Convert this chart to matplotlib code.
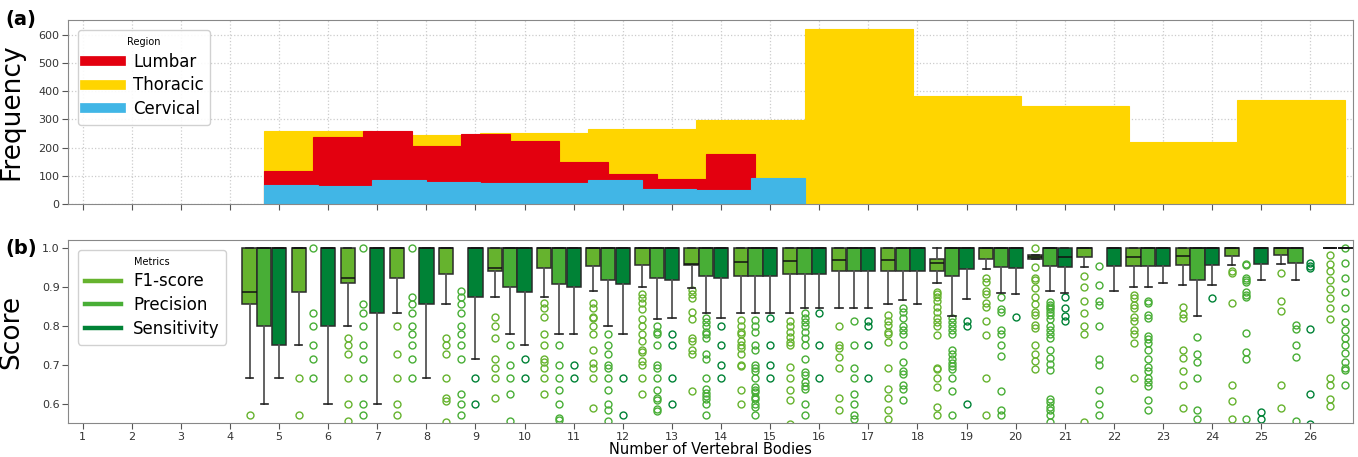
import numpy as np
import matplotlib
matplotlib.use("Agg")
import matplotlib.pyplot as plt
from matplotlib.lines import Line2D

# --- (a) histogram data: counts per bin, range of vertebral counts per region
region_names = ["Lumbar", "Thoracic", "Cervical"]
thoracic_counts = [259, 245, 250, 265, 298, 620, 383, 346, 221, 369]
thoracic_range = (5, 27)
lumbar_counts = [115, 238, 258, 206, 249, 225, 150, 107, 89, 177]
lumbar_range = (5, 15)
cervical_counts = [68, 64, 83, 76, 74, 74, 86, 51, 49, 92]
cervical_range = (5, 16)

# --- (b) box statistics per number of vertebral bodies (None = no box)
groups = list(range(5, 28))
metric_names = ["F1-score", "Precision", "Sensitivity"]

f1_q1 = [.857, .888, .91, .923, .933, .941, .948, .953, .957, .957, .928, .933,
         .94, .941, .941, .972, .972, .976, .955, .957, .98, .981, 1.0]
f1_med = [.888, 1, .923, 1, 1, .948, 1, 1, 1, .959, .964, .967,
          .969, .97, .962, 1, .977, 1, .978, .98, 1, 1, 1.0]
f1_q3 = [1, 1, 1, 1, 1, 1, 1, 1, 1, 1, 1, 1, 1, 1, .972, 1, .981, 1, 1, 1, 1, 1, 1]
f1_lo = [.666, .75, .80, .833, .857, .875, .875, .889, .90, .897, .832, .832,
         .847, .857, .91, .947, .972, .951, .901, .905, .957, .959, 1.0]
f1_hi = [1, 1, 1, 1, 1, 1, 1, 1, 1, 1, 1, 1, 1, 1, 1, 1, .981, 1, 1, 1, 1, 1, 1]
f1_fliers = [
    [.57],
    [.667, .57],
    [.769, .75, .727, .667, .60, .555],
    [.80, .727, .667, .60, .57],
    [.769, .75, .727, .667, .615, .608, .552],
    [.824, .80, .769, .714, .692, .667, .615],
    [.858, .845, .824, .778, .75, .714, .707, .692, .667, .624],
    [.858, .845, .824, .82, .80, .778, .738, .705, .692, .667, .588],
    [.882, .871, .858, .843, .819, .80, .778, .761, .738, .733, .709, .70, .667, .624],
    [.892, .881, .871, .835, .819, .768, .761, .738, .729, .632],
    [.815, .80, .785, .778, .761, .75, .742, .729, .70, .697, .636, .60],
    [.813, .80, .785, .772, .759, .75, .695, .667, .636, .609, .548],
    [.80, .75, .744, .72, .692, .615, .583],
    [.828, .812, .802, .785, .778, .759, .692, .639, .615, .583, .561],
    [.886, .881, .875, .864, .849, .837, .821, .811, .80, .776, .692, .688, .667, .643, .591, .57],
    [.923, .914, .89, .881, .858, .849, .812, .776, .667, .57],
    [1.0, .951, .923, .918, .897, .875, .856, .837, .828, .802, .794, .751, .729, .709, .688],
    [.927, .901, .865, .832, .80, .778, .553],
    [.88, .873, .854, .845, .824, .812, .789, .778, .757, .667],
    [.849, .83, .821, .738, .718, .683, .647, .588],
    [.94, .935, .858, .647, .606, .561],
    [.937, .864, .838, .649, .588],
    [.981, .96, .94, .917, .895, .871, .845, .819, .666, .649, .611, .594],
]

pr_q1 = [.80, None, None, None, None, .90, .909, .917, .923, .928, .928, .933,
         .94, .941, .928, .951, .953, None, .955, .917, None, .961, 1.0]
pr_lo = [.60, None, None, None, None, .778, .778, .80, .819, .832, .832, .847,
         .847, .867, .826, .884, .89, None, .901, .826, None, .918, 1.0]
pr_fliers = [
    [],
    [1.0, .834, .80, .75, .714, .667],
    [1.0, .857, .833, .80, .75, .714, .667, .60, .57],
    [1.0, .875, .857, .833, .80, .778, .75, .714, .667],
    [.889, .875, .857, .833, .80, .778, .75, .714, .624, .60, .57],
    [.75, .70, .667, .624, .555],
    [.75, .70, .667, .636, .60, .563, .557],
    [.778, .75, .727, .70, .692, .667, .636, .60, .583, .555],
    [.80, .785, .778, .75, .70, .692, .667, .636, .615, .609, .587, .581],
    [.82, .811, .80, .785, .778, .769, .729, .714, .667, .637, .628, .621, .613, .60, .57],
    [.815, .80, .785, .75, .738, .70, .692, .683, .667, .643, .636, .63, .617, .611, .60, .591, .57],
    [.832, .821, .809, .80, .785, .769, .75, .714, .682, .673, .656, .646, .639, .60, .57],
    [.812, .75, .692, .667, .624, .60, .57, .561],
    [.845, .837, .821, .80, .789, .778, .75, .706, .683, .677, .647, .637, .61],
    [.82, .809, .80, .789, .778, .738, .729, .714, .705, .697, .69, .667, .632, .57],
    [.875, .843, .835, .789, .778, .75, .723, .632, .583, .57],
    [.862, .855, .849, .843, .837, .828, .819, .80, .789, .778, .768, .738, .718, .703, .686,
     .613, .604, .591, .583, .57, .553],
    [.954, .905, .864, .855, .80, .714, .70, .636, .60, .57],
    [.864, .858, .828, .821, .775, .766, .757, .738, .714, .695, .683, .667, .656, .645, .609, .583],
    [.772, .727, .708, .667, .583, .56],
    [.959, .957, .924, .918, .914, .886, .88, .874, .783, .733, .714, .561],
    [.802, .792, .751, .72, .555],
    [1.0, .961, .923, .886, .847, .809, .789, .769, .75, .731, .707, .692, .686, .649],
]

se_q1 = [.75, .80, .833, .857, .875, .888, .90, .909, .917, .923, .928, .933,
         .94, .941, .945, .948, .951, .953, .955, .957, .959, None, 1.0]
se_med = [1, 1, 1, 1, 1, 1, 1, 1, 1, 1, 1, 1, 1, 1, 1, 1, .976, 1, 1, 1, 1, None, 1]
se_lo = [.667, .60, .60, .667, .714, .75, .778, .778, .82, .82, .832, .847,
         .847, .857, .868, .883, .884, .89, .91, .905, .918, None, 1.0]
se_fliers = [
    [], [], [], [], [.667, .60], [.714, .667], [.70, .667], [.667, .57],
    [.778, .75, .667, .60], [.80, .75, .70, .667], [.82, .75, .70, .667],
    [.832, .75, .667], [.812, .80, .75, .667], [], [.812, .80, .60], [.824],
    [.875, .847, .826, .812], [], [], [.871], [.578, .561],
    [.961, .955, .948, .792, .624, .548], [],
]

region_colors = {"Lumbar": "#e3000f", "Thoracic": "#ffd500", "Cervical": "#41b6e6"}
metric_colors = ["#66b32e", "#48ae36", "#008236"]

fig = plt.figure(figsize=(13.58, 4.57), dpi=100)
ax1 = fig.add_axes([0.050, 0.554, 0.946, 0.402])
ax2 = fig.add_axes([0.050, 0.074, 0.946, 0.401])

# ---- (a) overlapping step histograms (shifted by -0.3 like the boxes)
shift = -0.3
for name, counts, rng in [("Thoracic", thoracic_counts, thoracic_range),
                          ("Lumbar", lumbar_counts, lumbar_range),
                          ("Cervical", cervical_counts, cervical_range)]:
    edges = np.linspace(rng[0] + shift, rng[1] + shift, len(counts) + 1)
    ax1.stairs(counts, edges, fill=True, color=region_colors[name],
               edgecolor=region_colors[name], linewidth=0.8)

ax1.set_xlim(0.7, 26.86)
ax1.set_ylim(0, 653)
ax1.set_xticks(range(1, 27))
ax1.set_xticklabels([])
ax1.set_yticks(range(0, 700, 100))
ax1.grid(True, linestyle=":", color="#cccccc", linewidth=0.9)
ax1.set_axisbelow(True)
ax1.set_ylabel("Frequency", fontsize=19)
ax1.yaxis.set_label_coords(-0.034, 0.5)

leg_kw = dict(loc="upper left", fontsize=12, title_fontsize=7, handlelength=2.2,
              handletextpad=0.7, borderaxespad=0.6, labelspacing=0.35, framealpha=0.9)
h1 = [Line2D([0], [0], color=region_colors[n], lw=7) for n in region_names]
ax1.legend(h1, region_names, title="Region", **leg_kw)
fig.text(0.004, 0.945, "(a)", fontsize=14, fontweight="bold")

# ---- (b) box plots
offsets = [-0.6, -0.3, 0.0]
all_q1 = [f1_q1, pr_q1, se_q1]
all_med = [f1_med, [1.0 if q is not None else None for q in pr_q1], se_med]
all_q3 = [f1_q3, [1.0] * len(groups), [1.0] * len(groups)]
all_lo = [f1_lo, pr_lo, se_lo]
all_hi = [f1_hi, [1.0] * len(groups), [1.0] * len(groups)]
all_fl = [f1_fliers, pr_fliers, se_fliers]

for m in range(3):
    stats, pos = [], []
    for i, n in enumerate(groups):
        x = n + offsets[m]
        if all_q1[m][i] is not None:
            stats.append(dict(q1=all_q1[m][i], med=all_med[m][i], q3=all_q3[m][i],
                              whislo=all_lo[m][i], whishi=all_hi[m][i], fliers=[]))
            pos.append(x)
        fl = all_fl[m][i]
        if fl:
            ax2.plot([x] * len(fl), fl, linestyle="none", marker="o", ms=5,
                     mfc="none", mec=metric_colors[m], mew=1.0, zorder=1)
    ax2.bxp(stats, positions=pos, widths=0.29, patch_artist=True, showfliers=False,
            boxprops=dict(facecolor=metric_colors[m], edgecolor="#2b2b2b", linewidth=1.1),
            medianprops=dict(color="#111111", linewidth=1.1),
            whiskerprops=dict(color="#555555", linewidth=1.3),
            capprops=dict(color="#222222", linewidth=1.2),
            capwidths=0.15, manage_ticks=False)

ax2.set_xlim(0.7, 26.86)
ax2.set_ylim(0.55, 1.021)
ax2.set_xticks(range(1, 27))
ax2.set_xticklabels([str(i) for i in range(1, 27)])
ax2.set_yticks([0.6, 0.7, 0.8, 0.9, 1.0])
ax2.set_ylabel("Score", fontsize=19)
ax2.yaxis.set_label_coords(-0.034, 0.5)
ax2.set_xlabel("Number of Vertebral Bodies", fontsize=10.5, labelpad=0)

h2 = [Line2D([0], [0], color=c, lw=3.2) for c in metric_colors]
ax2.legend(h2, metric_names, title="Metrics", **leg_kw)
fig.text(0.004, 0.445, "(b)", fontsize=14, fontweight="bold")

for ax in (ax1, ax2):
    for s in ax.spines.values():
        s.set_color("#888888")
    ax.tick_params(colors="#333333", labelsize=8, length=4, pad=2, color="#555555")

fig.savefig("out.png", dpi=100)
